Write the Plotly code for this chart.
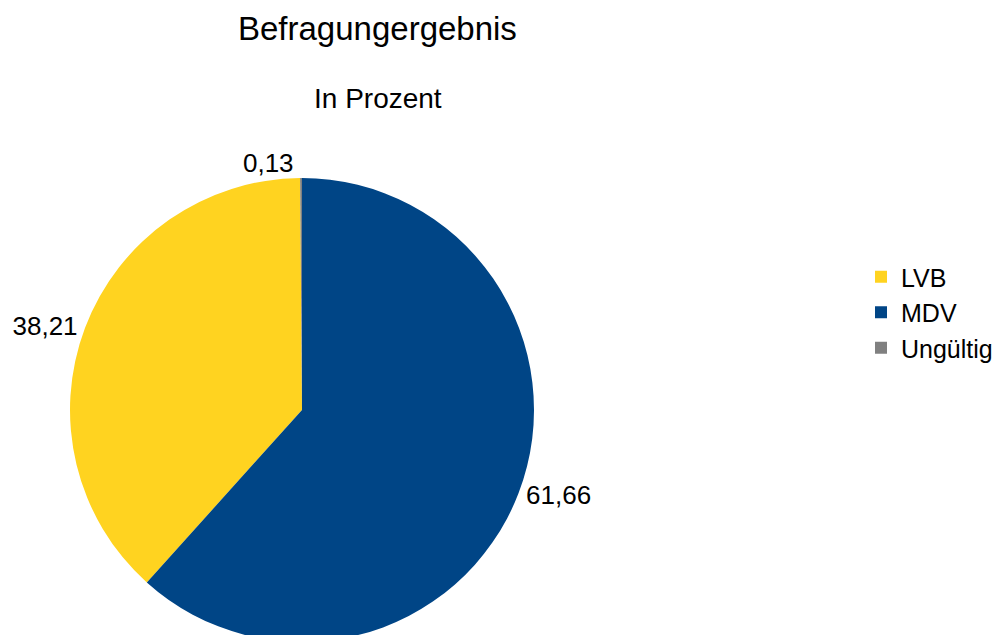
import plotly.graph_objects as go

labels = ["LVB", "MDV", "Ungültig"]
values = [38.21, 61.66, 0.13]
colors = ["#FFD320", "#004586", "#808080"]

title_text = "Befragungergebnis"
subtitle_text = "In Prozent"

W, H = 1007, 650
cx, cy, r = 302, 410, 232

fig = go.Figure(
    go.Pie(
        labels=labels,
        values=values,
        sort=False,
        direction="counterclockwise",
        rotation=221.98,
        marker=dict(colors=colors, line=dict(width=0)),
        textposition="outside",
        texttemplate="%{value:.2f}",
        textfont=dict(size=26, color="#000000"),
        outsidetextfont=dict(size=26, color="#000000"),
        hoverinfo="label+value",
        domain=dict(
            x=[(cx - r) / W, (cx + r) / W],
            y=[(H - (cy + r)) / H, (H - (cy - r)) / H],
        ),
        automargin=False,
    )
)

fig.update_layout(
    width=W,
    height=H,
    margin=dict(l=0, r=0, t=0, b=0),
    paper_bgcolor="white",
    plot_bgcolor="white",
    separators=",.",
    font=dict(family="Liberation Sans, Arial, sans-serif", color="#000000"),
    showlegend=True,
    legend=dict(
        x=861 / W,
        y=1 - 254 / H,
        xanchor="left",
        yanchor="top",
        font=dict(size=25, color="#000000"),
        bgcolor="rgba(0,0,0,0)",
    ),
    annotations=[
        dict(text=title_text, x=377 / W, y=1 - 28 / H, xref="paper", yref="paper",
             xanchor="center", yanchor="middle", showarrow=False,
             font=dict(size=33, color="#000000")),
        dict(text=subtitle_text, x=378 / W, y=1 - 99 / H, xref="paper", yref="paper",
             xanchor="center", yanchor="middle", showarrow=False,
             font=dict(size=28, color="#000000")),
    ],
)

fig.write_html(
    "out.html",
    config={"displayModeBar": False},
    post_script="document.body.style.margin='0';document.body.style.overflow='hidden';document.documentElement.style.overflow='hidden';",
)
